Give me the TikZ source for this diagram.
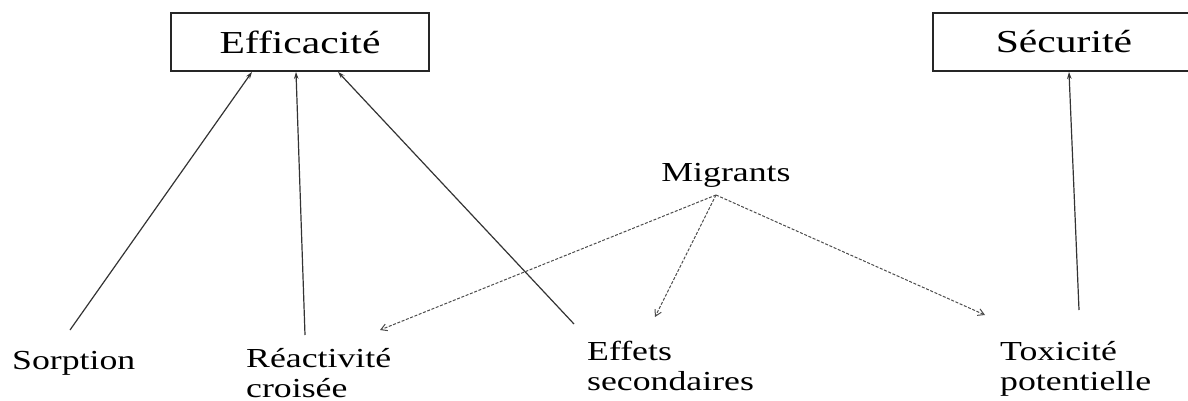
\documentclass[tikz,border=0pt]{standalone}
\usepackage{fontspec}
\setmainfont[FakeStretch=1.3]{Liberation Serif}
\usetikzlibrary{arrows.meta}
\begin{document}
\begin{tikzpicture}[x=1pt,y=-1pt,
  box/.style={draw=black!85,line width=1.8pt,minimum width=258pt,minimum height=58pt,inner sep=0pt,font=\fontsize{32}{36}\selectfont},
  lbl/.style={inner sep=0pt,align=left,font=\fontsize{27.5}{30}\selectfont,anchor=base west},
  solidarr/.style={draw=black!80,line width=1.2pt,-{Stealth[length=7pt,width=4.5pt]}},
  dasharr/.style={draw=black!70,line width=1pt,dash pattern=on 3pt off 1.6pt,-{Straight Barb[length=6pt,width=7pt]}}]
\clip (0,0) rectangle (1188,401);
\useasboundingbox (0,0) rectangle (1188,401);
\node[box] (eff) at (300,42) {Efficacité};
\node[box,minimum width=262pt] (sec) at (1064,42) {Sécurité};
\node[lbl,anchor=base] (mig) at (726,181) {Migrants};
\node[lbl] (sorp) at (12,369) {Sorption};
\node[lbl] (reac) at (246,397) {Réactivité\\croisée};
\node[lbl] (eff2) at (587,390) {Effets\\secondaires};
\node[lbl] (tox) at (1000,390) {Toxicité\\potentielle};
\coordinate (m) at (716,195);
\draw[solidarr] ([shift={(58,-39)}]sorp.base west) -- ([xshift=-48pt]eff.south);
\draw[solidarr] ([shift={(59,-62)}]reac.base west) -- ([xshift=-4pt]eff.south);
\draw[solidarr] ([shift={(-13,-66)}]eff2.base west) -- ([xshift=38pt]eff.south);
\draw[solidarr] ([shift={(79,-80)}]tox.base west) -- ([xshift=5pt]sec.south);
\draw[dasharr] (m) -- ([shift={(134,-67)}]reac.base west);
\draw[dasharr] (m) -- ([shift={(68,-73)}]eff2.base west);
\draw[dasharr] (m) -- ([shift={(-15,-75)}]tox.base west);
\end{tikzpicture}
\end{document}
